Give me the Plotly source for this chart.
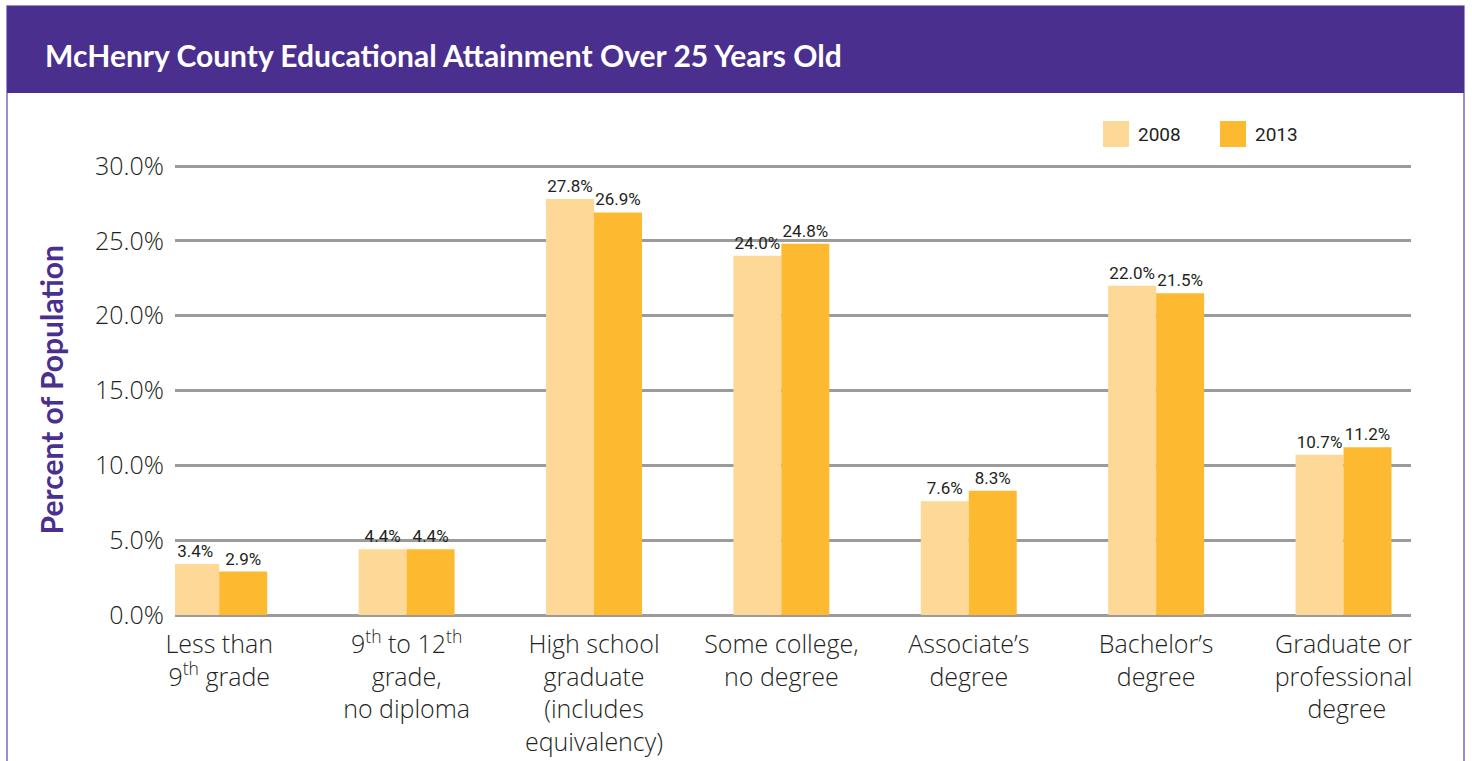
import plotly.graph_objects as go

# --- data -------------------------------------------------------------
categories = [
    "Less than<br>9<sup>th</sup> grade",
    "9<sup>th</sup> to 12<sup>th</sup><br>grade,<br>no diploma",
    "High school<br>graduate<br>(includes<br>equivalency)",
    "Some college,<br>no degree",
    "Associate’s<br>degree",
    "Bachelor’s<br>degree",
    "Graduate or<br>professional<br> degree",
]
values_2008 = [3.4, 4.4, 27.8, 24.0, 7.6, 22.0, 10.7]
values_2013 = [2.9, 4.4, 26.9, 24.8, 8.3, 21.5, 11.2]
series_names = ["2008", "2013"]
y_ticks = [0, 5, 10, 15, 20, 25, 30]
y_tick_labels = [f"{v:.1f}%" for v in y_ticks]

# --- styling ----------------------------------------------------------
W, H = 1472, 761
PURPLE = "#4a2f8e"
BORDER = "#7a68c2"
C2008 = "#fdd896"
C2013 = "#fdb92f"
GRID = "#9b9b9b"
TEXT = "#231f20"
TITLE_FONT = "Lato"
AXIS_FONT = "Open Sans"
NARROW_FONT = "Roboto, sans-serif"


def px(x):
    return x / W


def py(y):
    return 1 - y / H


fig = go.Figure()
for name, vals, col in [(series_names[0], values_2008, C2008),
                        (series_names[1], values_2013, C2013)]:
    fig.add_trace(go.Bar(
        x=categories, y=vals, name=name,
        marker=dict(color=col, line=dict(width=0)),
        text=[f"{v:.1f}%" for v in vals],
        textposition="outside",
        textfont=dict(family=NARROW_FONT, size=17, color=TEXT),
        cliponaxis=False,
        showlegend=False,
    ))

fig.update_layout(
    width=W, height=H,
    margin=dict(l=0, r=0, t=0, b=0, autoexpand=False),
    paper_bgcolor="white", plot_bgcolor="white",
    barmode="group", bargap=0.488, bargroupgap=0,
    xaxis=dict(
        domain=[px(175), px(1411)],
        range=[-0.236, 6.36],
        automargin=False,
        showgrid=False, zeroline=False, showline=False, ticks="",
        ticklabelstandoff=12,
        tickfont=dict(family=AXIS_FONT, size=25, color=TEXT, weight=300),
    ),
    yaxis=dict(
        # a sliver of headroom so the 30% gridline is drawn
        domain=[py(615), py(164.5)],
        range=[0, 30.1],
        automargin=False,
        tickvals=y_ticks, ticktext=y_tick_labels,
        showgrid=True, gridcolor=GRID, gridwidth=2.5,
        zeroline=True, zerolinecolor=GRID, zerolinewidth=2.5,
        showline=False, ticks="",
        ticklabelstandoff=10,
        tickfont=dict(family=AXIS_FONT, size=25, color=TEXT, weight=300),
        title=dict(text="Percent of Population",
                   font=dict(family=TITLE_FONT, size=30, color=PURPLE, weight="bold"),
                   standoff=22),
    ),
    showlegend=False,
)

# header band and frame
fig.add_shape(type="rect", xref="paper", yref="paper",
              x0=px(7), x1=px(1464), y0=py(775), y1=py(6),
              line=dict(color=BORDER, width=1.5), fillcolor="rgba(0,0,0,0)", layer="below")
fig.add_shape(type="rect", xref="paper", yref="paper",
              x0=px(7), x1=px(1464), y0=py(93), y1=py(6),
              line=dict(width=0), fillcolor=PURPLE, layer="below")
fig.add_annotation(
    text="McHenry County Educational Attainment Over 25 Years Old",
    xref="paper", yref="paper", x=px(43), y=py(55),
    xanchor="left", yanchor="middle", showarrow=False,
    font=dict(family=TITLE_FONT, size=30, color="white", weight="bold"),
)

# legend swatches
for name, col, sx in [(series_names[0], C2008, 1103), (series_names[1], C2013, 1220)]:
    fig.add_shape(type="rect", xref="paper", yref="paper",
                  x0=px(sx), x1=px(sx + 26), y0=py(147), y1=py(121),
                  line=dict(width=0), fillcolor=col)
    fig.add_annotation(text=name, xref="paper", yref="paper",
                       x=px(sx + 33), y=py(134), xanchor="left", yanchor="middle",
                       showarrow=False,
                       font=dict(family=NARROW_FONT, size=19, color=TEXT))

fig.write_html("out.html")
